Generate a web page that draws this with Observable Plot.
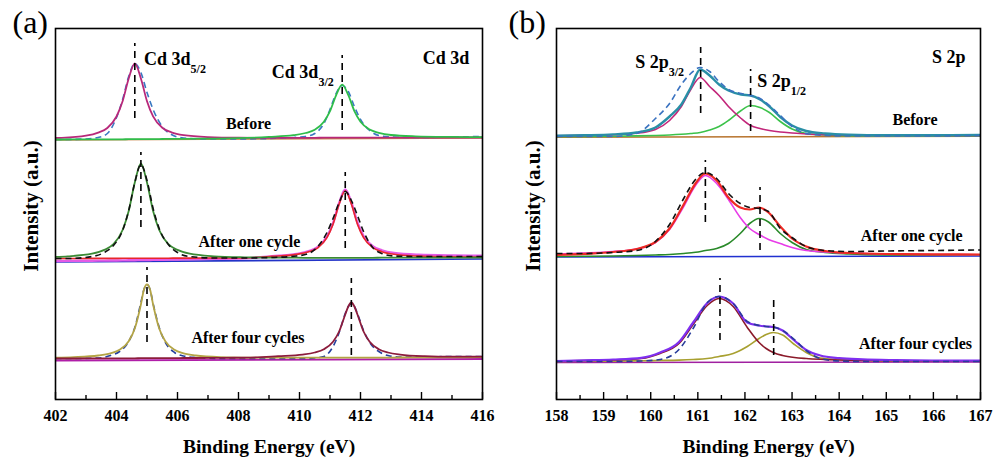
<!DOCTYPE html>
<html><head><meta charset="utf-8">
<script src="https://cdn.jsdelivr.net/npm/d3@7"></script>
<script src="https://cdn.jsdelivr.net/npm/@observablehq/plot@0.6"></script>
<style>
html,body{margin:0;padding:0;background:#fff;}
#wrap{position:relative;width:993px;height:459px;overflow:hidden;background:#fff;}
#pa{position:absolute;left:0;top:0;}
#pb{position:absolute;left:497px;top:0;}
</style></head><body><div id="wrap"><div id="pa"></div><div id="pb"></div></div>
<script>
// ---------------- Panel (a): Cd 3d ----------------
const aTicksMajor = [402, 404, 406, 408, 410, 412, 414, 416];
const aTicksMinor = [403, 405, 407, 409, 411, 413, 415];
const aOffsets = {before: 260, one: 141, four: 41};

const aBeforeX = [402, 402.2, 403.0, 403.4, 403.7, 404.0, 404.2, 404.4, 404.6, 404.8, 405.0, 405.2, 405.5, 405.8, 406.2, 407.0, 408.0, 409.0, 409.8, 410.2, 410.5, 410.8, 411.0, 411.2, 411.4, 411.6, 411.8, 412.0, 412.3, 412.6, 413.0, 413.8, 415.0, 416.0];
const aBeforeRaw = [0, 0, 0.5, 2, 6, 22, 40, 63, 76, 67, 47, 30, 13, 5, 1.5, 0.5, 0.5, 1, 2, 3, 6, 16, 30, 46, 54, 48, 33, 20, 9, 4, 2.5, 2, 2.5, 3];
const aBeforeP1 = [1.5, 1.7, 3.8, 6.9, 11.5, 23, 38.2, 61, 76.2, 61, 38.3, 23.1, 11.8, 7.2, 4.3, 2.4, 1.8, 1.7, 1.7, 1.7, 1.7, 1.8, 1.8, 1.8, 1.8, 1.8, 1.8, 1.9, 1.9, 1.9, 1.9, 2, 2, 2];
const aBeforeP2 = [0, 0, 0.1, 0.1, 0.2, 0.2, 0.2, 0.3, 0.3, 0.3, 0.4, 0.4, 0.5, 0.6, 0.7, 0.9, 1.3, 2.6, 4.3, 6.5, 9.7, 17.7, 28.3, 44.2, 54.8, 44.3, 28.4, 17.8, 9.9, 6.7, 4.5, 3.2, 2.6, 2.4];
const aBeforeBaseX = [402, 416];
const aBeforeBase = [-0.5, 1.5];

const aOneX = [402, 402.4, 403.2, 403.6, 403.9, 404.2, 404.4, 404.6, 404.8, 405.0, 405.2, 405.4, 405.7, 406.0, 406.4, 407.2, 408.2, 409.1, 409.9, 410.3, 410.6, 410.9, 411.1, 411.3, 411.5, 411.7, 411.9, 412.1, 412.4, 412.7, 413.1, 413.9, 415, 416];
const aOneRaw = [0, 0, 2, 6, 13, 28, 48, 76, 94, 78, 50, 30, 14, 6, 2, 0.5, 0.5, 1, 2.5, 5, 12, 26, 40, 56, 67, 58, 43, 27, 11, 5, 2.5, 2, 2, 2];
const aOneP1 = [1.6, 2.2, 4.8, 8.6, 14.3, 28.5, 47.5, 76, 95, 76, 47.5, 28.5, 14.3, 8.6, 4.8, 2.2, 1.2, 0.9, 0.8, 0.7, 0.7, 0.7, 0.7, 0.7, 0.7, 0.7, 0.7, 0.7, 0.7, 0.8, 0.8, 0.8, 0.9, 1.0];
const aOneP2 = [0, 0, 0.1, 0.1, 0.1, 0.2, 0.2, 0.2, 0.2, 0.3, 0.3, 0.3, 0.3, 0.4, 0.4, 0.5, 0.6, 2.1, 4.1, 6.7, 10.7, 20.9, 34.3, 54.4, 67.8, 54.4, 34.3, 20.9, 10.8, 6.8, 4.2, 2.4, 1.6, 1.4];
const aOneEnv = [-2.5, -2.4, -2.2, -2.1, -2, -1.9, -1.8, -1.7, -1.6, -1.5, -1.4, -1.3, -1.1, -1, -0.8, -0.4, 0.2, 2.2, 4.5, 7.3, 11.5, 21.8, 35.3, 55.5, 69, 56, 36, 22.5, 12.3, 8.2, 5.5, 3.7, 3, 2.8];
const aOneBaseX = [402, 416];
const aOneBase = [-3.5, -0.5];

const aFourX = [402, 402.6, 403.4, 403.8, 404.1, 404.4, 404.6, 404.8, 404.9, 405.0, 405.1, 405.2, 405.4, 405.6, 405.9, 406.2, 406.6, 407.4, 408.4, 409.3, 410.1, 410.5, 410.8, 411.1, 411.3, 411.5, 411.6, 411.7, 411.8, 411.9, 412.1, 412.3, 412.6, 412.9, 413.3, 414.1, 415, 416];
const aFourRaw = [0, 0, 0.5, 3, 7, 17, 31, 56, 69, 74, 69, 55, 31, 16, 6, 2.5, 1, 0, 0, 0, 0, 0.5, 2, 12, 26, 45, 52, 55, 52, 45, 28, 16, 7, 3, 1.5, 1.5, 2, 2];
const aFourP1 = [0.9, 1.4, 3.0, 5.2, 8.7, 17.2, 30, 54, 69, 74, 69, 54, 30, 17.2, 8.7, 5.2, 3.0, 1.4, 0.9, 0.8, 0.8, 0.8, 0.8, 0.8, 0.8, 0.8, 0.8, 0.8, 0.8, 0.8, 0.9, 0.9, 0.9, 0.9, 1, 1.1, 1.2, 1.3];
const aFourP2 = [0, 0, 0.1, 0.1, 0.2, 0.2, 0.2, 0.3, 0.3, 0.3, 0.3, 0.3, 0.3, 0.4, 0.4, 0.5, 0.5, 0.7, 0.9, 2.3, 3.9, 6, 9.3, 16.8, 27, 44, 52, 56, 52, 44, 27, 16.8, 9.3, 6, 3.9, 2.3, 1.8, 1.8];
const aFourBaseX = [402, 416];
const aFourBase = [-2, -0.5];

const aMarkX = [404.6, 411.4, 404.8, 411.5, 405.0, 411.7];
const aMarkY1 = [281, 269, 172, 151, 57, 44];
const aMarkY2 = [356, 344, 247, 227, 132, 121];

// ---------------- Panel (b): S 2p ----------------
const bTicksMajor = [158, 159, 160, 161, 162, 163, 164, 165, 166, 167];
const bTicksMinor = [158.5, 159.5, 160.5, 161.5, 162.5, 163.5, 164.5, 165.5, 166.5];
const bOffsets = {before: 263, one: 144, four: 38};

const bBeforeX = [158, 158.6, 159.2, 159.7, 160.1, 160.4, 160.65, 160.85, 161.05, 161.25, 161.45, 161.65, 161.92, 162.12, 162.32, 162.52, 162.75, 163.0, 163.3, 163.7, 164.2, 165, 166, 167];
const bBeforeRaw = [0, 0, 0, 3, 18, 33, 52, 63, 69, 65, 55, 47, 43, 41, 38, 31, 21, 10, 3, 1, 0.5, 0.5, 0.5, 1];
const bBeforeEnv = [0.7, 1.2, 2.1, 4, 9, 20, 32, 49, 67, 61, 52, 46, 42, 41, 37, 30, 19.5, 11, 5.5, 3, 1.8, 1.3, 1.3, 1.5];
const bBeforeP1 = [0.7, 1.1, 1.8, 3.2, 7, 16, 30, 47, 59, 50, 41, 30, 18, 11, 8, 6, 4.5, 3.5, 2.5, 1.8, 1.3, 1.0, 1.0, 1.1];
const bBeforeP2 = [0, 0.1, 0.3, 0.6, 1, 1.5, 2.2, 3, 4, 6.5, 10, 16, 26, 31, 29, 24, 15, 7.5, 3, 1.5, 0.8, 0.5, 0.6, 0.8];
const bBeforeBaseX = [158, 167];
const bBeforeBase = [-0.7, 0.3];

const bOneX = [158, 158.6, 159.2, 159.7, 160.1, 160.4, 160.7, 160.95, 161.16, 161.4, 161.65, 161.9, 162.1, 162.3, 162.5, 162.75, 163.0, 163.3, 163.7, 164.2, 165, 166, 167];
const bOneRaw = [2, 2, 3, 5, 14, 31, 57, 76, 83, 77, 62, 52, 48, 47, 44, 27, 18, 9, 5, 4, 4.5, 5, 5.5];
const bOneEnv = [0.5, 1.7, 3.5, 6.5, 13.5, 27, 51, 72, 82, 75, 58, 48, 46, 48, 43, 29, 17, 9, 4.5, 2.5, 1.5, 1.2, 1];
const bOneP1 = [1.5, 2.5, 4, 6.5, 13, 26, 49, 70, 80, 72, 56, 38, 27, 21, 16, 12, 8, 5, 3.5, 2.5, 1.5, 1, 0.8];
const bOneP2 = [-1, -0.8, -0.5, 0, 0.5, 1, 2, 3.2, 5, 7, 12, 22, 32, 37, 33.5, 22, 13, 6, 3, 1.5, 0.5, 0.3, 0.2];
const bOneBaseX = [158, 167];
const bOneBase = [-1.5, -0.5];

const bFourX = [158, 158.6, 159.2, 159.8, 160.2, 160.6, 160.9, 161.2, 161.45, 161.75, 162.05, 162.3, 162.45, 162.6, 162.8, 163.05, 163.3, 163.6, 164.0, 164.5, 165.2, 166, 167];
const bFourRaw = [0, 0, 0, 0.5, 2, 12, 33, 59, 65, 58, 40, 36, 35, 34.5, 31, 22, 11, 3, 0.5, 0, 0, 0, 0];
const bFourEnv = [0.5, 1.2, 2, 3.7, 9, 19.5, 39, 58.5, 65, 58, 39, 36, 35, 34.5, 31, 21, 11.5, 6, 3.3, 2.1, 1.4, 1, 0.8];
const bFourP1 = [0.5, 1, 1.5, 3, 8, 18, 37, 56, 63, 55, 34, 19, 13, 9, 6, 4, 3, 2.2, 1.5, 1.1, 0.8, 0.6, 0.5];
const bFourP2 = [0, 0.2, 0.4, 0.7, 1, 1.4, 2, 3, 5, 8, 15, 23, 27, 29, 26.5, 17, 9, 3.5, 2, 1, 0.6, 0.4, 0.3];
const bFourBaseX = [158, 167];
const bFourBase = [-1, -0.5];

const bMarkX = [161.06, 162.12, 161.16, 162.32, 161.47, 162.61];
const bMarkY1 = [286, 268, 177, 149, 59, 44];
const bMarkY2 = [352, 330, 239, 212, 121, 102];

// ---------------- drawing ----------------
const FONT = "'Liberation Serif','Times New Roman',Times,serif";
const RAWDASH = "6,4";

function rows(xs, ys, off) { return xs.map((x, i) => ({x, y: ys[i] + off})); }

function curve(xs, ys, off, color, w, dash, interp) {
  return Plot.line(rows(xs, ys, off), {
    x: "x", y: "y", stroke: color, strokeWidth: w,
    strokeDasharray: dash, curve: interp || "monotone-x",
    strokeLinejoin: "round", strokeLinecap: "butt"
  });
}

function makePanel(cfg) {
  const markers = cfg.markX.map((x, i) => ({x, y1: cfg.markY1[i], y2: cfg.markY2[i]}));
  const plot = Plot.plot({
    width: cfg.width, height: 459,
    marginLeft: cfg.ml, marginRight: cfg.mr, marginTop: 28, marginBottom: 60,
    x: {domain: cfg.domain},
    y: {domain: [0, 371], axis: null},
    style: {fontFamily: FONT, fontSize: "16px", fontWeight: "bold", color: "black", background: "white", overflow: "visible"},
    marks: [
      ...cfg.curves,
      Plot.ruleX(markers, {x: "x", y1: "y1", y2: "y2", stroke: "black", strokeWidth: 1.6, strokeDasharray: "7,5"}),
      Plot.ruleX(cfg.major, {x: d => d, y1: 0, y2: 7, stroke: "black", strokeWidth: 1.4}),
      Plot.ruleX(cfg.minor, {x: d => d, y1: 0, y2: 4, stroke: "black", strokeWidth: 1.4}),
      Plot.axisX(cfg.major, {tickSize: 0, tickPadding: 10, tickFormat: d => String(d), fontSize: 16, fontWeight: "bold", label: null}),
      Plot.text(["Binding Energy (eV)"], {text: d => d, frameAnchor: "bottom", dy: 53, lineAnchor: "bottom", textAnchor: "middle", fontSize: 19.5, fontWeight: "bold"}),
      Plot.text(["Intensity (a.u.)"], {text: d => d, frameAnchor: "left", rotate: -90, dx: cfg.ylabDx, dy: -8, lineAnchor: "bottom", textAnchor: "middle", fontSize: 21, fontWeight: "bold"}),
      Plot.text([cfg.letter], {text: d => d, frameAnchor: "top-left", dx: cfg.letterDx, dy: 4, textAnchor: "start", lineAnchor: "bottom", fontSize: 32, fontWeight: "normal"}),
      Plot.text(cfg.stateLabels, {x: "x", y: "y", text: "t", textAnchor: "middle", lineAnchor: "bottom", fontSize: 16, fontWeight: "bold"}),
      Plot.text([cfg.title], {x: "x", y: "y", text: "t", textAnchor: "end", lineAnchor: "bottom", fontSize: 18, fontWeight: "bold"}),
      Plot.frame({stroke: "black", strokeWidth: 1.6})
    ]
  });
  const xs = plot.scale("x"), ys = plot.scale("y");
  const sx = d3.scaleLinear(xs.domain, xs.range);
  const sy = d3.scaleLinear(ys.domain, ys.range);
  const svg = d3.select(plot);
  for (const s of cfg.subLabels) {
    const t = svg.append("text")
      .attr("x", sx(s.x)).attr("y", sy(s.y))
      .attr("text-anchor", "start")
      .style("text-anchor", "start")
      .attr("font-family", FONT).attr("font-weight", "bold").attr("font-size", 18)
      .attr("fill", "black");
    t.append("tspan").text(s.main);
    t.append("tspan").attr("dy", 8).attr("font-size", 12).text(s.sub);
  }
  return plot;
}

// panel (a)
const aCurves = [
  curve(aBeforeBaseX, aBeforeBase, aOffsets.before, "#c8834a", 1.4, null, "linear"),
  curve(aBeforeX, aBeforeRaw, aOffsets.before, "#3a78c2", 1.6, RAWDASH),
  curve(aBeforeX, aBeforeP1, aOffsets.before, "#b8287a", 1.8),
  curve(aBeforeX, aBeforeP2, aOffsets.before, "#2fbd4a", 1.8),

  curve(aOneBaseX, aOneBase, aOffsets.one, "#2233c8", 1.6, null, "linear"),
  curve(aOneX, aOneEnv, aOffsets.one, "#e45ae6", 2.4),
  curve(aOneX, aOneP2, aOffsets.one, "#e8262b", 1.6),
  curve(aOneX, aOneP1, aOffsets.one, "#3a8a34", 1.8),
  curve(aOneX, aOneRaw, aOffsets.one, "#111111", 1.6, RAWDASH),

  curve(aFourBaseX, aFourBase, aOffsets.four, "#b01ea8", 1.8, null, "linear"),
  curve(aFourX, aFourRaw, aOffsets.four, "#24409e", 1.6, RAWDASH),
  curve(aFourX, aFourP1, aOffsets.four, "#b3a445", 1.8),
  curve(aFourX, aFourP2, aOffsets.four, "#8c1c3c", 1.8)
];

const pa = makePanel({
  width: 497, ml: 55, mr: 15, domain: [402, 416],
  major: aTicksMajor, minor: aTicksMinor,
  markX: aMarkX, markY1: aMarkY1, markY2: aMarkY2,
  curves: aCurves, letter: "(a)", letterDx: -43, ylabDx: -18,
  stateLabels: [
    {x: 408.33, y: 271, t: "Before"},
    {x: 408.36, y: 153, t: "After one cycle"},
    {x: 408.31, y: 57, t: "After four cycles"}
  ],
  title: {x: 415.57, y: 336, t: "Cd 3d"},
  subLabels: [
    {x: 404.92, y: 334, main: "Cd 3d", sub: "5/2"},
    {x: 409.11, y: 321, main: "Cd 3d", sub: "3/2"}
  ]
});
document.getElementById("pa").appendChild(pa);

// panel (b)
const bCurves = [
  curve(bBeforeBaseX, bBeforeBase, bOffsets.before, "#b8742e", 1.6, null, "linear"),
  curve(bBeforeX, bBeforeP2, bOffsets.before, "#3cc24a", 1.6),
  curve(bBeforeX, bBeforeP1, bOffsets.before, "#c2267a", 1.6),
  curve(bBeforeX, bBeforeEnv, bOffsets.before, "#2a8fa6", 2.4),
  curve(bBeforeX, bBeforeRaw, bOffsets.before, "#3a72c0", 1.6, RAWDASH),

  curve(bOneBaseX, bOneBase, bOffsets.one, "#2030d0", 1.6, null, "linear"),
  curve(bOneX, bOneP2, bOffsets.one, "#2a8a2a", 1.6),
  curve(bOneX, bOneP1, bOffsets.one, "#e83ce8", 1.6),
  curve(bOneX, bOneEnv, bOffsets.one, "#ee2a24", 2.2),
  curve(bOneX, bOneRaw, bOffsets.one, "#111111", 1.6, RAWDASH),

  curve(bFourBaseX, bFourBase, bOffsets.four, "#a020a0", 1.6, null, "linear"),
  curve(bFourX, bFourP2, bOffsets.four, "#a8a030", 1.6),
  curve(bFourX, bFourP1, bOffsets.four, "#8b1a2a", 1.6),
  curve(bFourX, bFourEnv, bOffsets.four, "#7f2ff0", 2.2),
  curve(bFourX, bFourRaw, bOffsets.four, "#283c9a", 1.6, RAWDASH)
];

const pb = makePanel({
  width: 496, ml: 59, mr: 13, domain: [158, 167],
  major: bTicksMajor, minor: bTicksMinor,
  markX: bMarkX, markY1: bMarkY1, markY2: bMarkY2,
  curves: bCurves, letter: "(b)", letterDx: -48, ylabDx: -17,
  stateLabels: [
    {x: 165.61, y: 275, t: "Before"},
    {x: 165.54, y: 159, t: "After one cycle"},
    {x: 165.62, y: 51, t: "After four cycles"}
  ],
  title: {x: 166.68, y: 337, t: "S 2p"},
  subLabels: [
    {x: 159.68, y: 331, main: "S 2p", sub: "3/2"},
    {x: 162.27, y: 312, main: "S 2p", sub: "1/2"}
  ]
});
document.getElementById("pb").appendChild(pb);
</script>
</body></html>
